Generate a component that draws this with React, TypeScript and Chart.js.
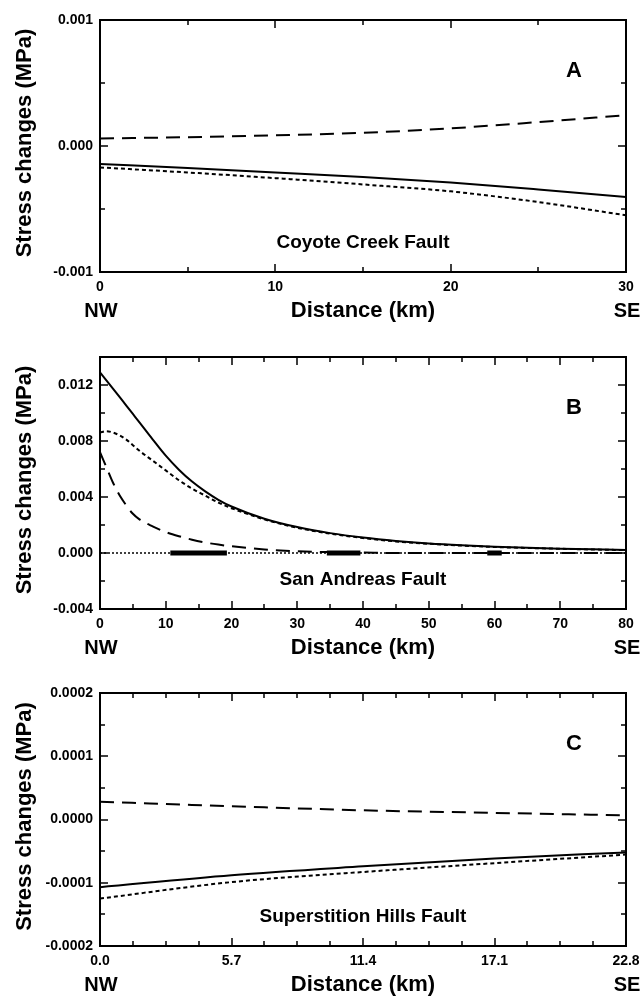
import React, { useEffect, useRef } from "react";
import { Chart, registerables } from "chart.js";

Chart.register(...registerables);

// ---------- Panel A: Coyote Creek Fault ----------
const aDistance = [0, 5, 10, 15, 20, 25, 30];
const aSolid = [-0.000143, -0.000175, -0.00021, -0.000246, -0.00029, -0.000345, -0.000405];
const aShortDash = [-0.00017, -0.00021, -0.000255, -0.000305, -0.00036, -0.000445, -0.00055];
const aLongDash = [0.00006, 0.00007, 0.000085, 0.000105, 0.00014, 0.00019, 0.000245];
const aXTicks = [0, 10, 20, 30];
const aXMinor = [5, 15, 25];
const aYTicks = [-0.001, 0, 0.001];
const aYMinor = [-0.0005, 0.0005];

// ---------- Panel B: San Andreas Fault ----------
const bDistance = [0, 1, 2, 3, 4, 5, 6, 8, 10, 12, 14, 16, 18, 20, 25, 30, 35, 40, 45, 50, 55, 60, 65, 70, 75, 80];
const bSolid = [0.0129, 0.01232, 0.01173, 0.01113, 0.01053, 0.00993, 0.00933, 0.00812, 0.00695, 0.00595, 0.0051, 0.0044, 0.0038, 0.00332, 0.00245, 0.00185, 0.00142, 0.0011, 0.00086, 0.00068, 0.00055, 0.00045, 0.00037, 0.00031, 0.00026, 0.00022];
const bShortDash = [0.0086, 0.0087, 0.0086, 0.0084, 0.0081, 0.0077, 0.0073, 0.0066, 0.0059, 0.0052, 0.0046, 0.0041, 0.0036, 0.0032, 0.0024, 0.0018, 0.00138, 0.00107, 0.00083, 0.00066, 0.00053, 0.00043, 0.00036, 0.0003, 0.00025, 0.00021];
const bLongDash = [0.0072, 0.0061, 0.005, 0.0041, 0.0034, 0.0028, 0.0024, 0.0019, 0.0015, 0.0012, 0.00095, 0.00075, 0.0006, 0.00048, 0.00025, 0.00012, 0.00006, 0.00003, 0, 0, 0, 0, 0, 0, 0, 0];
const bZeroX = [0, 80];
const bZeroY = [0, 0];
const bSegmentStart = [10.7, 34.5, 58.9];
const bSegmentEnd = [19.3, 39.6, 61.1];
const bXTicks = [0, 10, 20, 30, 40, 50, 60, 70, 80];
const bXMinor = [5, 15, 25, 35, 45, 55, 65, 75];
const bYTicks = [-0.004, 0, 0.004, 0.008, 0.012];
const bYMinor = [-0.002, 0.002, 0.006, 0.01];

// ---------- Panel C: Superstition Hills Fault ----------
const cDistance = [0, 5.7, 11.4, 17.1, 22.8];
const cSolid = [-0.000107, -0.000088, -0.000074, -0.0000615, -0.000052];
const cShortDash = [-0.000125, -0.000099, -0.000083, -0.000069, -0.0000555];
const cLongDash = [0.000028, 0.000021, 0.0000145, 0.0000105, 0.0000065];
const cXTicks = [0, 5.7, 11.4, 17.1, 22.8];
const cXMinor = [1.425, 2.85, 4.275, 7.125, 8.55, 9.975, 12.825, 14.25, 15.675, 18.525, 19.95, 21.375];
const cYTicks = [-0.0002, -0.0001, 0, 0.0001, 0.0002];
const cYMinor = [-0.00015, -0.00005, 0.00005, 0.00015];

const FONT = "'Liberation Sans', Arial, Helvetica, sans-serif";

type Spec = {
  top: number;
  height: number;
  plotTop: number;
  plotBottom: number;
  xMin: number;
  xMax: number;
  xTicks: number[];
  xMinor: number[];
  xDec: number;
  yMin: number;
  yMax: number;
  yTicks: number[];
  yMinor: number[];
  yDec: number;
  letter: string;
  fault: string;
  datasets: any[];
};

const pts = (xs: number[], ys: number[]) => xs.map((x, i) => ({ x, y: ys[i] }));

const lineDs = (data: any[], dash: number[], width = 2) => ({
  data,
  borderColor: "#000",
  backgroundColor: "#000",
  borderWidth: width,
  borderDash: dash,
  pointRadius: 0,
  cubicInterpolationMode: "monotone",
  fill: false,
  spanGaps: false,
});

const segData: any[] = [];
bSegmentStart.forEach((s, i) => {
  segData.push({ x: s, y: 0 }, { x: bSegmentEnd[i], y: 0 }, { x: bSegmentEnd[i] + 0.01, y: null });
});

const specs: Spec[] = [
  {
    top: 0,
    height: 332,
    plotTop: 20,
    plotBottom: 272,
    xMin: 0,
    xMax: 30,
    xTicks: aXTicks,
    xMinor: aXMinor,
    xDec: 0,
    yMin: -0.001,
    yMax: 0.001,
    yTicks: aYTicks,
    yMinor: aYMinor,
    yDec: 3,
    letter: "A",
    fault: "Coyote Creek Fault",
    datasets: [
      lineDs(pts(aDistance, aSolid), []),
      lineDs(pts(aDistance, aShortDash), [4, 3]),
      lineDs(pts(aDistance, aLongDash), [14, 8]),
    ],
  },
  {
    top: 332,
    height: 332,
    plotTop: 25,
    plotBottom: 277,
    xMin: 0,
    xMax: 80,
    xTicks: bXTicks,
    xMinor: bXMinor,
    xDec: 0,
    yMin: -0.004,
    yMax: 0.014,
    yTicks: bYTicks,
    yMinor: bYMinor,
    yDec: 3,
    letter: "B",
    fault: "San Andreas Fault",
    datasets: [
      lineDs(pts(bZeroX, bZeroY), [2, 2], 1.5),
      { ...lineDs(segData, [], 5), cubicInterpolationMode: "default", tension: 0, borderCapStyle: "butt" },
      lineDs(pts(bDistance, bSolid), []),
      lineDs(pts(bDistance, bShortDash), [4, 3]),
      lineDs(pts(bDistance, bLongDash), [14, 8]),
    ],
  },
  {
    top: 664,
    height: 332,
    plotTop: 29,
    plotBottom: 282,
    xMin: 0,
    xMax: 22.8,
    xTicks: cXTicks,
    xMinor: cXMinor,
    xDec: 1,
    yMin: -0.0002,
    yMax: 0.0002,
    yTicks: cYTicks,
    yMinor: cYMinor,
    yDec: 4,
    letter: "C",
    fault: "Superstition Hills Fault",
    datasets: [
      lineDs(pts(cDistance, cSolid), []),
      lineDs(pts(cDistance, cShortDash), [4, 3]),
      lineDs(pts(cDistance, cLongDash), [14, 8]),
    ],
  },
];

function Panel({ spec }: { spec: Spec }) {
  const ref = useRef<HTMLCanvasElement | null>(null);
  useEffect(() => {
    if (!ref.current) return;
    const framePlugin = {
      id: "frame",
      afterDraw(chart: any) {
        const { ctx, chartArea: a } = chart;
        const x = chart.scales.x;
        const y = chart.scales.y;
        ctx.save();
        ctx.strokeStyle = "#000";
        ctx.lineWidth = 2;
        ctx.strokeRect(a.left, a.top, a.right - a.left, a.bottom - a.top);
        ctx.lineWidth = 1.5;
        const vTick = (v: number, len: number) => {
          const px = Math.round(x.getPixelForValue(v));
          ctx.beginPath();
          ctx.moveTo(px, a.bottom);
          ctx.lineTo(px, a.bottom - len);
          ctx.moveTo(px, a.top);
          ctx.lineTo(px, a.top + len);
          ctx.stroke();
        };
        const hTick = (v: number, len: number) => {
          const py = Math.round(y.getPixelForValue(v));
          ctx.beginPath();
          ctx.moveTo(a.left, py);
          ctx.lineTo(a.left + len, py);
          ctx.moveTo(a.right, py);
          ctx.lineTo(a.right - len, py);
          ctx.stroke();
        };
        spec.xTicks.forEach((v) => vTick(v, 8));
        spec.xMinor.forEach((v) => vTick(v, 5));
        spec.yTicks.forEach((v) => hTick(v, 8));
        spec.yMinor.forEach((v) => hTick(v, 5));

        ctx.fillStyle = "#000";
        ctx.textAlign = "center";
        ctx.textBaseline = "middle";
        // panel letter
        ctx.font = `bold 22px ${FONT}`;
        ctx.fillText(spec.letter, a.right - 52, a.top + 51);
        // fault name
        ctx.font = `bold 19px ${FONT}`;
        ctx.fillText(spec.fault, (a.left + a.right) / 2, a.bottom - 29);
        // x-axis title and direction labels
        ctx.font = `bold 22px ${FONT}`;
        ctx.fillText("Distance (km)", (a.left + a.right) / 2, a.bottom + 39);
        ctx.font = `bold 20px ${FONT}`;
        ctx.fillText("NW", a.left + 1, a.bottom + 39);
        ctx.fillText("SE", a.right + 1, a.bottom + 39);
        // y-axis title
        ctx.save();
        ctx.translate(25, (a.top + a.bottom) / 2 - 3);
        ctx.rotate(-Math.PI / 2);
        ctx.font = `bold 22px ${FONT}`;
        ctx.fillText("Stress changes (MPa)", 0, 0);
        ctx.restore();
        ctx.restore();
      },
    };
    const chart = new Chart(ref.current, {
      type: "line",
      data: { datasets: spec.datasets },
      options: {
        responsive: false,
        animation: false,
        devicePixelRatio: 1,
        layout: { padding: { top: spec.plotTop, right: 16, left: 0, bottom: 0 } },
        plugins: { legend: { display: false }, tooltip: { enabled: false }, title: { display: false } },
        scales: {
          x: {
            type: "linear",
            min: spec.xMin,
            max: spec.xMax,
            grid: { display: false, drawTicks: false },
            border: { display: false },
            afterBuildTicks: (s: any) => {
              s.ticks = spec.xTicks.map((v) => ({ value: v }));
            },
            afterFit: (s: any) => {
              s.height = spec.height - spec.plotBottom;
              s.paddingLeft = 0;
              s.paddingRight = 0;
            },
            ticks: {
              padding: 7,
              maxRotation: 0,
              autoSkip: false,
              color: "#000",
              font: { family: FONT, size: 14, weight: "bold" },
              callback: (v: any) => Number(v).toFixed(spec.xDec),
            },
          },
          y: {
            type: "linear",
            min: spec.yMin,
            max: spec.yMax,
            grid: { display: false, drawTicks: false },
            border: { display: false },
            afterBuildTicks: (s: any) => {
              s.ticks = spec.yTicks.map((v) => ({ value: v }));
            },
            afterFit: (s: any) => {
              s.width = 100;
              s.paddingTop = 0;
              s.paddingBottom = 0;
            },
            ticks: {
              padding: 7,
              autoSkip: false,
              color: "#000",
              font: { family: FONT, size: 14, weight: "bold" },
              callback: (v: any) => {
                const n = Number(v);
                return (Math.abs(n) < 1e-12 ? 0 : n).toFixed(spec.yDec);
              },
            },
          },
        },
      },
      plugins: [framePlugin],
    } as any);
    return () => chart.destroy();
  }, [spec]);
  return (
    <canvas
      ref={ref}
      width={642}
      height={spec.height}
      style={{ position: "absolute", left: 0, top: spec.top, width: 642, height: spec.height, display: "block" }}
    />
  );
}

export default function App() {
  return (
    <div style={{ position: "absolute", left: 0, top: 0, width: 642, height: 996, background: "#fff" }}>
      {specs.map((s) => (
        <Panel key={s.letter} spec={s} />
      ))}
    </div>
  );
}
